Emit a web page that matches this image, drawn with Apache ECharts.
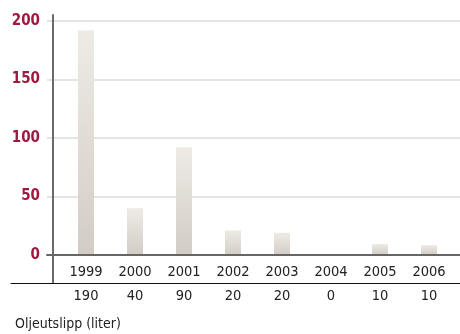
<!DOCTYPE html>
<html><head><meta charset="utf-8">
<script src="https://cdn.jsdelivr.net/npm/echarts@6/dist/echarts.min.js"></script>
<style>html,body{margin:0;padding:0;background:#fff}#c{width:460px;height:334px}</style>
</head><body><div id="c"></div>
<script>
const years = ['1999','2000','2001','2002','2003','2004','2005','2006'];
const spillBars = [192, 40, 92, 21, 19, 0, 9.5, 8.5];
const spillTable = ['190','40','90','20','20','0','10','10'];
const yTicks = [0, 50, 100, 150, 200];
const unitLabel = 'Oljeutslipp (liter)';

const FONT = '"DejaVu Sans Condensed","Liberation Sans Narrow",sans-serif';
const RED = '#9e1a40';
const chart = echarts.init(document.getElementById('c'), null, {renderer:'canvas'});
chart.setOption({
  animation: false,
  title: {text: unitLabel, left: 10, top: 312,
    textStyle: {fontFamily: FONT, fontSize: 14, fontWeight: 'normal', color: '#222'}},
  grid: [
    {left: 47, right: 0, top: 21, bottom: 79},
    {left: 61.5, right: 6.5, top: 21, bottom: 79},
    {left: 53, right: 0, top: 15, bottom: 51},
    {left: 11, right: 0, top: 200, bottom: 51}
  ],
  xAxis: [
    {gridIndex: 0, type: 'value', min: 0, max: 1, axisLabel: {show: false}, axisTick: {show: false},
     splitLine: {show: false}, axisLine: {show: true, lineStyle: {color: '#666', width: 2}}, z: 5},
    {gridIndex: 1, type: 'category', data: years, axisLine: {show: false}, axisTick: {show: false},
     axisLabel: {margin: 10, fontFamily: FONT, fontSize: 14.5, color: '#222'}},
    {gridIndex: 1, type: 'category', data: years, position: 'bottom', axisLine: {show: false}, axisTick: {show: false},
     axisLabel: {margin: 34, fontFamily: FONT, fontSize: 14.5, color: '#222', formatter: (v, i) => spillTable[i]}},
    {gridIndex: 2, type: 'value', show: false, min: 0, max: 1},
    {gridIndex: 3, type: 'value', min: 0, max: 1, axisLabel: {show: false}, axisTick: {show: false},
     splitLine: {show: false}, axisLine: {show: true, lineStyle: {color: '#111', width: 1}}}
  ],
  yAxis: [
    {gridIndex: 0, type: 'value', min: yTicks[0], max: yTicks[yTicks.length-1], interval: yTicks[1]-yTicks[0],
     axisLine: {show: false}, axisTick: {show: false},
     splitLine: {lineStyle: {color: '#e6e4e0', width: 2}},
     axisLabel: {margin: 7, fontFamily: FONT, fontSize: 15, fontWeight: 'bold', color: RED}},
    {gridIndex: 1, type: 'value', min: yTicks[0], max: yTicks[yTicks.length-1], show: false},
    {gridIndex: 2, type: 'value', min: 0, max: 1, axisLabel: {show: false}, axisTick: {show: false},
     splitLine: {show: false}, axisLine: {show: true, lineStyle: {color: '#6a6a6a', width: 2}}},
    {gridIndex: 3, type: 'value', show: false, min: 0, max: 1}
  ],
  series: [{
    type: 'bar', xAxisIndex: 1, yAxisIndex: 1, data: spillBars, barWidth: 16,
    itemStyle: {color: new echarts.graphic.LinearGradient(0, 0, 0, 1, [
      {offset: 0, color: '#eeebe6'}, {offset: 1, color: '#d2ccc4'}])}
  }]
});
</script></body></html>
